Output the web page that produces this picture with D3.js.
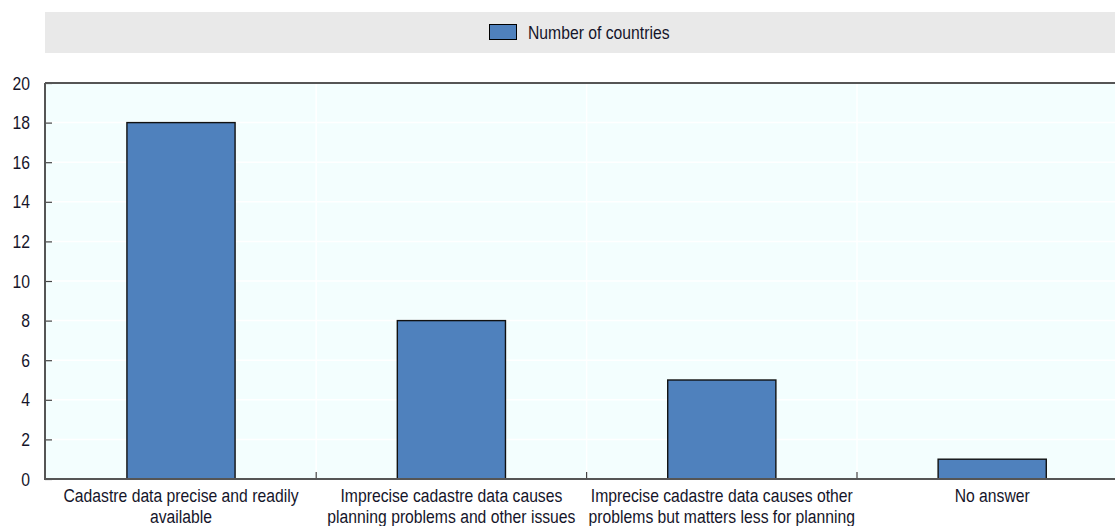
<!DOCTYPE html>
<html><head><meta charset="utf-8">
<script src="https://cdn.jsdelivr.net/npm/d3@7"></script>
<style>
html,body{margin:0;padding:0;background:#fff;overflow:hidden}
svg{display:block}
text{font-family:"Liberation Sans",Arial,sans-serif;fill:#15152a}
</style></head><body>
<svg id="c" width="1115" height="526"></svg>
<script>
const categories = [
  ["Cadastre data precise and readily", "available"],
  ["Imprecise cadastre data causes", "planning problems and other issues"],
  ["Imprecise cadastre data causes other", "problems but matters less for planning"],
  ["No answer"]
];
const seriesName = "Number of countries";
const values = [18, 8, 5, 1];
const yTicks = [0, 2, 4, 6, 8, 10, 12, 14, 16, 18, 20];

(function () {
const svg = d3.select("#c");
const pL = 45, pR = 1128, pT = 83, pB = 479;
const FS = 18.5, SX = 0.85;

const x = d3.scaleBand().domain(d3.range(categories.length)).range([45.8, 1127.4]).paddingInner(0.6).paddingOuter(0.3);
const y = d3.scaleLinear().domain([0, 20]).range([pB, pT]);

function label(g, tx, ty, anchor, lines, lh) {
  const t = g.append("text")
    .attr("transform", `translate(${tx},${ty}) scale(${SX},1)`)
    .attr("text-anchor", anchor).attr("font-size", FS);
  lines.forEach((s, i) => t.append("tspan").attr("x", 0).attr("y", i * (lh || 0)).text(s));
  return t;
}

// legend band
svg.append("rect").attr("x", 45).attr("y", 12).attr("width", 1070).attr("height", 41).attr("fill", "#e9e9e9");
svg.append("rect").attr("x", 489.5).attr("y", 24.5).attr("width", 27).attr("height", 15)
  .attr("fill", "#4f81bd").attr("stroke", "#000").attr("stroke-width", 1);
label(svg, 528, 38.5, "start", [seriesName]);

// plot bg
svg.append("rect").attr("x", pL).attr("y", pT).attr("width", pR - pL).attr("height", pB - pT).attr("fill", "#f3fefe");

// gridlines
const step = x.step();
svg.append("g").selectAll("line").data(yTicks.filter(d => d > 0 && d < 20)).join("line")
  .attr("x1", pL).attr("x2", pR).attr("y1", d => y(d)).attr("y2", d => y(d))
  .attr("stroke", "#ffffff").attr("stroke-width", 1.5);
const bounds = d3.range(1, categories.length).map(i => x(i) - (step - x.bandwidth()) / 2);
svg.append("g").selectAll("line").data(bounds).join("line")
  .attr("x1", d => d).attr("x2", d => d).attr("y1", pT).attr("y2", pB)
  .attr("stroke", "#ffffff").attr("stroke-width", 1.5);

// bars
svg.append("g").selectAll("rect").data(values).join("rect")
  .attr("x", (d, i) => x(i)).attr("width", x.bandwidth())
  .attr("y", d => y(d)).attr("height", d => pB - y(d))
  .attr("fill", "#4f81bd").attr("stroke", "#111").attr("stroke-width", 1.4);

// y axis ticks
const yAxis = d3.axisLeft(y).tickValues(yTicks).tickSize(-7).tickFormat("");
const ga = svg.append("g").attr("transform", `translate(${pL},0)`).call(yAxis);
ga.select(".domain").remove();
ga.selectAll(".tick line").attr("stroke", "#444").attr("stroke-width", 1.2);
ga.selectAll(".tick text").remove();
const yl = svg.append("g");
yTicks.forEach(v => label(yl, 30, y(v) + 6.5, "end", [String(v)]));

// x ticks at boundaries
svg.append("g").selectAll("line").data(bounds).join("line")
  .attr("x1", d => d).attr("x2", d => d).attr("y1", pB).attr("y2", pB - 7)
  .attr("stroke", "#444").attr("stroke-width", 1.2);

// frame
svg.append("line").attr("x1", pL).attr("x2", pR).attr("y1", pT).attr("y2", pT).attr("stroke", "#555").attr("stroke-width", 2);
svg.append("line").attr("x1", pL).attr("x2", pL).attr("y1", pT).attr("y2", pB + 1).attr("stroke", "#555").attr("stroke-width", 2);
svg.append("line").attr("x1", pL).attr("x2", pR).attr("y1", pB).attr("y2", pB).attr("stroke", "#555").attr("stroke-width", 2);

// category labels
const cl = svg.append("g");
categories.forEach((c, i) => label(cl, x(i) + x.bandwidth() / 2, 502, "middle", c, 21));
})();
</script>
</body></html>
